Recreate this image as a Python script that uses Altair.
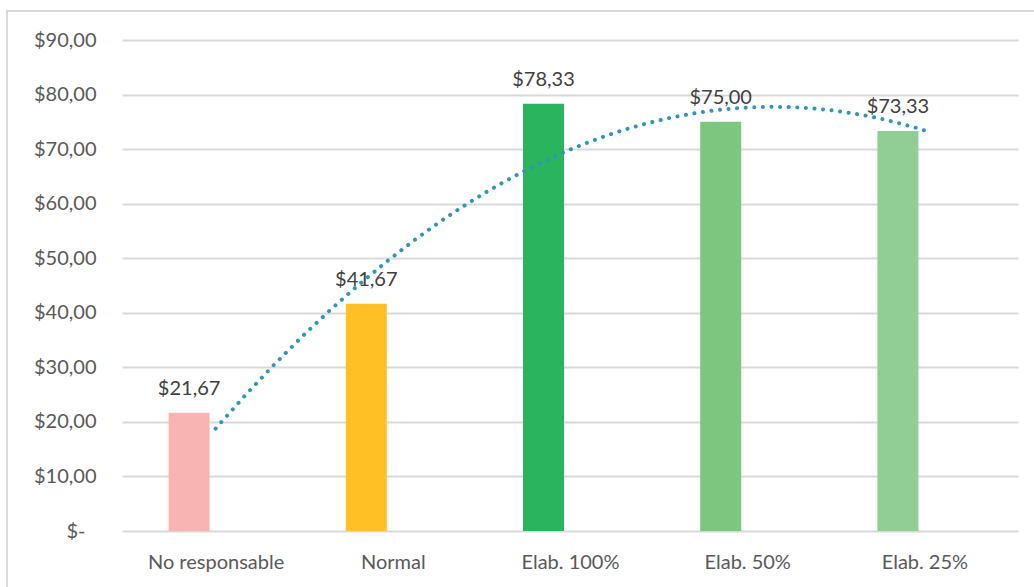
import altair as alt
import pandas as pd

categories = ["No responsable", "Normal", "Elab. 100%", "Elab. 50%", "Elab. 25%"]
positions = [1, 2, 3, 4, 5]
values = [21.67, 41.67, 78.33, 75.00, 73.33]
labels = ["$21,67", "$41,67", "$78,33", "$75,00", "$73,33"]
colors = ["#F7B4B3", "#FFC026", "#2AB45E", "#7CC67F", "#90CE95"]
y_ticks = [0, 10, 20, 30, 40, 50, 60, 70, 80, 90]

df = pd.DataFrame({"cat": categories, "pos": positions, "val": values,
                   "label": labels, "color": colors})

W, H = 896, 491
FONT = "Lato"

cat_expr = "{" + ",".join(f"{p}:'{c}'" for p, c in zip(positions, categories)) + "}"

x_scale = alt.Scale(domain=[0.5, 5.5], nice=False, zero=False)
y_scale = alt.Scale(domain=[0, 90], nice=False)

x_axis = alt.Axis(values=positions, title=None, grid=False, domain=False, ticks=False,
                  labelExpr=f"{cat_expr}[datum.value]", labelFont=FONT, labelFontSize=20,
                  labelColor="#595959", labelPadding=21)
y_axis = alt.Axis(values=y_ticks, title=None, domain=False, ticks=False,
                  gridColor="#D9D9D9", gridWidth=2,
                  labelExpr="datum.value == 0 ? '$-' : '$' + replace(format(datum.value, '.2f'), '.', ',')",
                  labelFont=FONT, labelFontSize=20, labelColor="#595959",
                  labelPadding={"condition": {"test": "datum.value == 0", "value": 37}, "value": 26})

base = alt.Chart(df)

frame = base.mark_rect(fill=None, stroke="#D9D9D9", strokeWidth=2).encode(
    x=alt.value(-115), x2=alt.value(W + 40), y=alt.value(-29), y2=alt.value(H + 80)
)

bars = base.mark_bar(size=41, xOffset=-26.5).encode(
    x=alt.X("pos:Q", scale=x_scale, axis=x_axis),
    y=alt.Y("val:Q", scale=y_scale, axis=y_axis),
    color=alt.Color("color:N", scale=None, legend=None),
)

text = base.mark_text(xOffset=-26.5, dy=-18, baseline="alphabetic", font=FONT,
                      fontSize=20, color="#404040").encode(
    x=alt.X("pos:Q", scale=x_scale),
    y=alt.Y("val:Q", scale=y_scale),
    text="label:N",
)

trend = base.transform_regression("pos", "val", method="poly", order=2, extent=[1, 5]).mark_line(
    color="#3194BE", strokeWidth=4, strokeDash=[0.1, 8.5], strokeCap="round"
).encode(
    x=alt.X("pos:Q", scale=x_scale),
    y=alt.Y("val:Q", scale=y_scale),
)

chart = alt.layer(frame, bars, trend, text).properties(
    width=W, height=H,
    autosize=alt.AutoSizeParams(type="none"),
    padding={"left": 122, "top": 40, "right": 16, "bottom": 56},
    background="white",
).configure_view(stroke=None)

chart.save("out.html", embed_options={"renderer": "svg", "actions": False})
